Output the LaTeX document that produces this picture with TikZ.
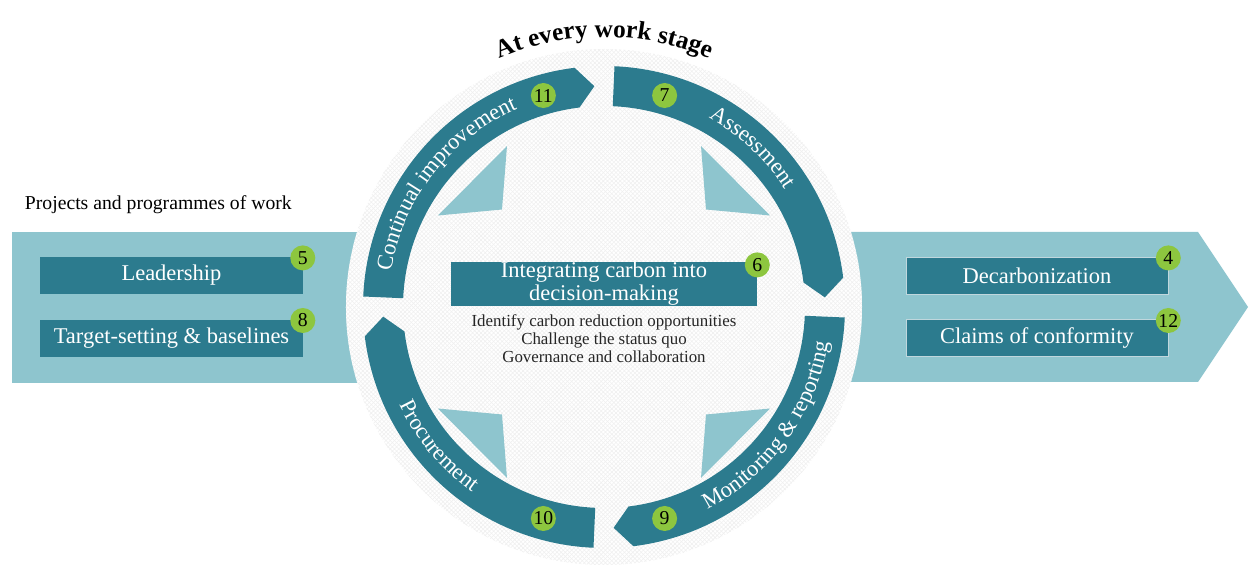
\documentclass[tikz,border=0pt]{standalone}
\usepackage{fontspec}
\setmainfont{Liberation Serif}
\usetikzlibrary{positioning,decorations.text,patterns}
\definecolor{ringteal}{RGB}{44,123,142}
\definecolor{bandteal}{RGB}{142,197,206}
\definecolor{numgreen}{RGB}{141,198,63}
\newcommand\ringfont{\color{white}\fontsize{16}{19}\selectfont}

\begin{document}
\begin{tikzpicture}[x=0.025cm, y=0.025cm,
	stagebox/.style={fill=ringteal, text=white, minimum width=6.55cm, minimum height=0.925cm, inner sep=0pt, font=\fontsize{16}{19}\selectfont},
	numdot/.style={circle, fill=numgreen, minimum size=0.625cm, inner sep=0pt, font=\fontsize{14}{14}\selectfont}]
		\useasboundingbox (-604,-258) rectangle (645,307);
		% bands behind the disc
		\fill[bandteal] (-592,-76) rectangle (-200,75);
		\fill[bandteal] (200,75) -- (594,75) -- (644,0) -- (594,-75) -- (200,-75) -- cycle;
		\fill[white] (0,0) circle[radius=258];
		\fill[pattern=crosshatch, pattern color=black!6] (0,0) circle[radius=258];
		% inner triangles
		\foreach \sx in {-1,1}
			\foreach \sy in {-1,1}
				\fill[bandteal] ({\sx*97},{-5+\sy*166}) -- ({\sx*102},{-5+\sy*102.5}) -- ({\sx*166},{-5+\sy*96.5}) -- cycle;
		% ring segments
		\foreach \a in {180,90,0,-90}
			\fill[ringteal] ({\a-2.5}:241) arc[start angle=\a-2.5, end angle=\a-83, radius=241]
				-- ({\a-87.5}:221) -- ({\a-83}:201) arc[start angle=\a-83, end angle=\a-2.5, radius=201] -- cycle;
		\path[decorate, decoration={text along path, text align=center, text={|\ringfont|Continual improvement}}]
			(180:216) arc[start angle=180, end angle=104, radius=216];
		\path[decorate, decoration={text along path, text align=center, text={|\ringfont|Assessment}}]
			(80:216) arc[start angle=80, end angle=14, radius=216];
		\path[decorate, decoration={text along path, text align=center, text={|\ringfont|Monitoring {\&} reporting}}]
			(-70:227) arc[start angle=-70, end angle=-2, radius=227];
		\path[decorate, decoration={text along path, text align=center, text={|\ringfont|Procurement}}]
			(185:227) arc[start angle=185, end angle=255, radius=227];
		\path[decorate, decoration={text along path, text align=center, text={|\bfseries\fontsize{18}{20}\selectfont|At every work stage}}]
			(125:270) arc[start angle=125, end angle=55, radius=270];
		% boxes
		\node[anchor=west, font=\fontsize{14}{17}\selectfont] (projects) at (-584,102) {Projects and programmes of work};
		\node[stagebox] (lead) at (-432.5,31.5) {Leadership};
		\node[stagebox, below=0.625cm of lead] (target) {Target-setting \& baselines};
		\node[stagebox, draw=white!70!ringteal] (decarb) at (433,31.5) {Decarbonization};
		\node[stagebox, draw=white!70!ringteal, below=0.625cm of decarb] (claims) {Claims of conformity};
		\node[stagebox, minimum width=7.65cm, minimum height=1.05cm, align=center, font=\fontsize{16}{16.5}\selectfont] (integ) at (0,23) {Integrating carbon into\\decision-making};
		\node[below=0.2cm of integ, inner sep=0pt, align=center, font=\fontsize{12}{12.8}\selectfont, text=black!85] (goals) {Identify carbon reduction opportunities\\Challenge the status quo\\Governance and collaboration};
		% numbers
		\node[numdot] (n5) at ([yshift=-0.03cm]lead.north east) {5};
		\node[numdot] (n8) at ([yshift=-0.03cm]target.north east) {8};
		\node[numdot] (n4) at ([yshift=-0.03cm]decarb.north east) {4};
		\node[numdot] (n12) at ([yshift=-0.03cm]claims.north east) {12};
		\node[numdot] (n6) at ([yshift=-0.075cm]integ.north east) {6};
		\node[numdot] (n11) at (106:220) {11};
		\node[numdot] (n7) at (74:220) {7};
		\node[numdot] (n10) at (254:220) {10};
		\node[numdot] (n9) at (286:220) {9};
	\end{tikzpicture}
\end{document}
